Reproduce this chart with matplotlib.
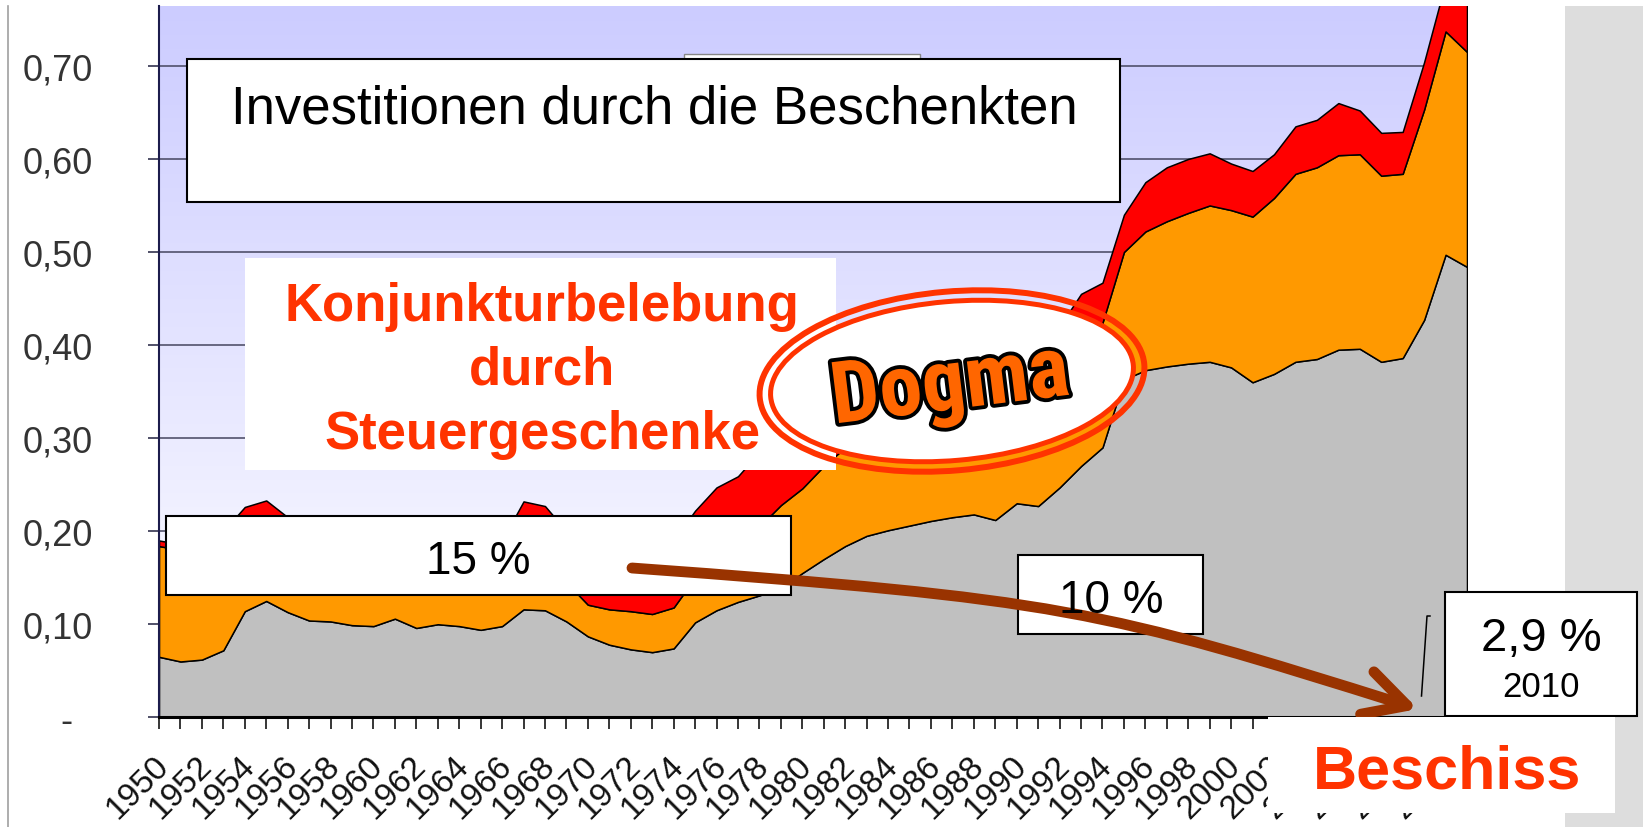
#!/usr/bin/env python3
import numpy as np
import matplotlib

matplotlib.use("Agg")
import matplotlib.pyplot as plt
import matplotlib.transforms as mtransforms
from matplotlib import font_manager, patheffects
from matplotlib.colors import LinearSegmentedColormap
from matplotlib.lines import Line2D
from matplotlib.patches import Ellipse, FancyArrowPatch, Rectangle
from matplotlib.path import Path

# --- data (tops of the stacked layers) ---
years = list(range(1950, 2012))
grey_top = [
    0.065, 0.060, 0.062, 0.072, 0.114, 0.125, 0.113, 0.104, 0.103, 0.099,
    0.098, 0.106, 0.096, 0.100, 0.098, 0.094, 0.098, 0.116, 0.115, 0.103,
    0.087, 0.078, 0.073, 0.070, 0.074, 0.102, 0.115, 0.124, 0.131, 0.139,
    0.155, 0.170, 0.184, 0.195, 0.201, 0.206, 0.211, 0.215, 0.218, 0.212,
    0.230, 0.227, 0.247, 0.270, 0.290, 0.363, 0.373, 0.377, 0.380, 0.382,
    0.376, 0.360, 0.369, 0.382, 0.385, 0.395, 0.396, 0.382, 0.386, 0.427,
    0.497, 0.484,
]
orange_top = [
    0.184, 0.180, 0.178, 0.180, 0.195, 0.205, 0.195, 0.186, 0.182, 0.178,
    0.176, 0.182, 0.176, 0.179, 0.177, 0.173, 0.178, 0.196, 0.192, 0.145,
    0.121, 0.116, 0.114, 0.111, 0.118, 0.150, 0.170, 0.190, 0.205, 0.228,
    0.246, 0.270, 0.290, 0.300, 0.310, 0.315, 0.320, 0.325, 0.330, 0.330,
    0.340, 0.345, 0.360, 0.390, 0.424, 0.500, 0.522, 0.533, 0.542, 0.550,
    0.545, 0.538, 0.558, 0.584, 0.591, 0.604, 0.605, 0.582, 0.584, 0.653,
    0.737, 0.715,
]
red_top = [
    0.190, 0.186, 0.185, 0.200, 0.226, 0.233, 0.215, 0.200, 0.196, 0.193,
    0.190, 0.195, 0.190, 0.193, 0.190, 0.188, 0.190, 0.232, 0.227, 0.200,
    0.190, 0.180, 0.176, 0.178, 0.190, 0.222, 0.247, 0.259, 0.285, 0.300,
    0.320, 0.340, 0.355, 0.365, 0.375, 0.380, 0.385, 0.390, 0.395, 0.395,
    0.400, 0.405, 0.420, 0.455, 0.467, 0.540, 0.575, 0.591, 0.600, 0.606,
    0.595, 0.587, 0.605, 0.635, 0.642, 0.660, 0.652, 0.628, 0.629, 0.704,
    0.790, 0.775,
]

y_ticks = [0.0, 0.1, 0.2, 0.3, 0.4, 0.5, 0.6, 0.7]
y_tick_labels = ["-  ", "0,10", "0,20", "0,30", "0,40", "0,50", "0,60", "0,70"]
x_tick_labels = [str(y) if y % 2 == 0 else "" for y in years]

GREY = "#C0C0C0"
ORANGE = "#FF9900"
RED = "#FF0000"
SIGNAL = "#FF3300"
BROWN = "#993300"

W, H = 1643, 828


def pick_dogma_font():
    names = {f.name for f in font_manager.fontManager.ttflist}
    for name in ("Liberation Sans Narrow", "DejaVu Sans Condensed", "Roboto Condensed", "Noto Sans Condensed"):
        if name in names:
            return name, 62
    return "Liberation Sans", 48


def box(fig, tr, x0, y0, x1, y1, *, edge="black", lw=1.5, z=3):
    rect = Rectangle((x0, y0), x1 - x0, y1 - y0, transform=tr, facecolor="white",
                     edgecolor=edge if edge else "none", linewidth=lw if edge else 0, zorder=z)
    fig.add_artist(rect)


plt.rcParams["font.family"] = ["Liberation Sans", "DejaVu Sans"]

fig = plt.figure(figsize=(W / 100, H / 100), dpi=100)
fig.patch.set_facecolor("white")
# pixel coordinates, origin top-left
px = mtransforms.Affine2D().scale(1 / W, -1 / H).translate(0, 1) + fig.transFigure

y_bottom, y_top = 718.3, 7.3
ymax = 0.764
ax = fig.add_axes([159 / W, 1 - y_bottom / H, 1308 / W, (y_bottom - y_top) / H])

bg = LinearSegmentedColormap.from_list("bg", ["#CCCCFF", "#FFFFFF"])
ax.imshow(np.linspace(0, 1, 256).reshape(-1, 1), cmap=bg, extent=(1950, 2011, 0, ymax),
          aspect="auto", zorder=0)

ax.fill_between(years, 0, grey_top, facecolor=GREY, edgecolor="black", linewidth=1.1, zorder=1)
ax.fill_between(years, grey_top, orange_top, facecolor=ORANGE, edgecolor="black", linewidth=1.1, zorder=1)
ax.fill_between(years, orange_top, red_top, facecolor=RED, edgecolor="black", linewidth=1.1, zorder=1)

ax.set_xlim(1950, 2011)
ax.set_ylim(0, ymax)
ax.set_axisbelow(True)
ax.yaxis.grid(True, color="#45455f", linewidth=1.1)
ax.xaxis.grid(False)

ax.set_yticks(y_ticks)
ax.set_yticklabels(y_tick_labels, fontsize=26, color="#333333")
ax.set_xticks(years)
ax.set_xticklabels(x_tick_labels, fontsize=24, color="#111111", rotation=45,
                   ha="right", va="center", rotation_mode="anchor")
ax.tick_params(axis="y", direction="out", length=7.6, width=1.1, color="#202040", pad=40)
ax.tick_params(axis="x", direction="out", length=8.6, width=1.1, color="black", pad=22.5)
shift = mtransforms.ScaledTranslation(5 / 100, 0, fig.dpi_scale_trans)
for lab in ax.get_xticklabels():
    lab.set_transform(lab.get_transform() + shift)

for side in ("top", "right"):
    ax.spines[side].set_visible(False)
ax.spines["left"].set_color("#1c1c4c")
ax.spines["left"].set_linewidth(1.5)
ax.spines["bottom"].set_color("black")
ax.spines["bottom"].set_linewidth(2.2)

# slide decorations
fig.add_artist(Line2D([8, 8], [7, 828], transform=px, color="#a0a0a0", linewidth=1.2, zorder=1))
fig.add_artist(Rectangle((1565, 7), 78, 821, transform=px, facecolor="#DDDDDD",
                         edgecolor="none", zorder=1))

# title box
box(fig, px, 684, 55, 920, 120, edge="#888888", lw=1.0, z=2)
box(fig, px, 187, 60, 1120, 203, z=3)
fig.text(654, 123, "Investitionen durch die Beschenkten", transform=px, fontsize=38,
         ha="center", va="baseline", zorder=6)

# claim box
box(fig, px, 245, 259, 836, 471, edge=None, z=2)
for line, base in zip(["Konjunkturbelebung", "durch", "Steuergeschenke"], [320.7, 385, 449]):
    fig.text(542, base, line, transform=px, fontsize=38, fontweight="bold", color=SIGNAL,
             ha="center", va="baseline", zorder=6)

# Dogma ellipse
fig.add_artist(Ellipse((952, 382), 2 * 193, 2 * 89.5, angle=-5, transform=px, facecolor="none",
                       edgecolor=SIGNAL, linewidth=4.3, zorder=4))
fig.add_artist(Ellipse((952, 382), 2 * 182, 2 * 79.5, angle=-5, transform=px, facecolor="white",
                       edgecolor=SIGNAL, linewidth=3.6, zorder=4))
dogma_family, dogma_size = pick_dogma_font()
fig.text(953, 410, "Dogma", transform=px, fontsize=dogma_size, fontweight="bold",
         family=dogma_family, color="#FF6600", rotation=7, rotation_mode="anchor",
         ha="center", va="baseline", zorder=6,
         path_effects=[patheffects.Stroke(linewidth=5.5, foreground="black"), patheffects.Normal()])

# percentage boxes
box(fig, px, 166, 517, 791, 596, z=3)
fig.text(478.5, 574, "15 %", transform=px, fontsize=33, ha="center", va="baseline", zorder=6)
box(fig, px, 1018, 556, 1203, 635, z=3)
fig.text(1111.5, 613.3, "10 %", transform=px, fontsize=33, ha="center", va="baseline", zorder=6)
box(fig, px, 1445, 593, 1637, 717, z=3)
fig.text(1541, 650.7, "2,9 %", transform=px, fontsize=34, ha="center", va="baseline", zorder=6)
fig.text(1540.5, 697.3, "2010", transform=px, fontsize=25, ha="center", va="baseline", zorder=6)
fig.add_artist(Line2D([1430, 1427, 1421.5], [617, 617, 697], transform=px, color="black",
                      linewidth=1.1, zorder=5))

# arrow
arrow_path = Path([(632, 569), (1060, 600), (1100, 610), (1418, 710)],
                  [Path.MOVETO, Path.CURVE4, Path.CURVE4, Path.CURVE4])
fig.add_artist(FancyArrowPatch(path=arrow_path, transform=px,
                               arrowstyle="->,head_length=30,head_width=16", mutation_scale=1,
                               color=BROWN, linewidth=7.8, zorder=5))

box(fig, px, 1268, 718, 1615, 814, edge=None, z=5)
fig.text(1447.5, 789, "Beschiss", transform=px, fontsize=44, fontweight="bold", color=SIGNAL,
         ha="center", va="baseline", zorder=6)

fig.savefig("out.png", dpi=100)
